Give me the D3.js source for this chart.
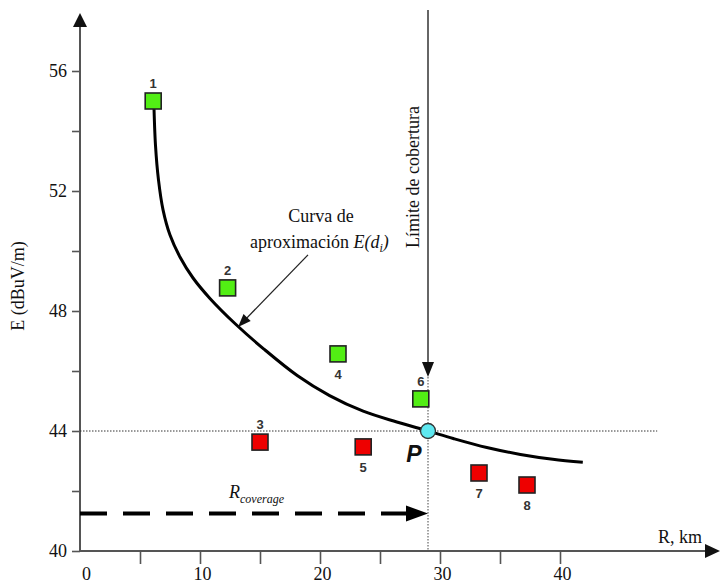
<!DOCTYPE html>
<html><head><meta charset="utf-8">
<script src="https://cdn.jsdelivr.net/npm/d3@7/dist/d3.min.js"></script>
<style>body{margin:0;background:#fff}svg{display:block}</style>
</head><body><svg id="c" width="720" height="583"></svg>
<script>
// ---- data ----
const pointIds   = [1, 2, 3, 4, 5, 6, 7, 8];
const pointR     = [6.1, 12.3, 15.0, 21.5, 23.6, 28.4, 33.25, 37.25];
const pointE     = [55.0, 48.77, 43.63, 46.57, 43.47, 45.07, 42.6, 42.2];
const pointState = ["above","above","below","above","below","above","below","below"];
const labelSide  = ["top","top","top","bottom","bottom","top","bottom","bottom"];
const curveR = [6.15, 6.29, 6.54, 6.92, 7.5, 8.33, 9.42, 10.83, 13.0, 15.3, 18.1, 20.8, 23.6, 26.4, 29.0, 31.1, 33.9, 36.7, 39.4, 41.9];
const curveE = [55.0, 53.53, 52.37, 51.37, 50.53, 49.8, 49.1, 48.42, 47.55, 46.74, 45.85, 45.18, 44.66, 44.3, 44.0, 43.75, 43.45, 43.22, 43.06, 42.96];
const xTickValues = [0, 5, 10, 15, 20, 25, 30, 35, 40];
const xTickLabels = [0, 10, 20, 30, 40];
const yTickValues = [40, 42, 44, 46, 48, 50, 52, 54, 56];
const yTickLabels = [40, 44, 48, 52, 56];
const pointP = {r: 29, e: 44};
const coverageE = 41.25;        // level of the R_coverage dashed arrow
const limitArrowTipE = 45.8;    // tip of the "Límite de cobertura" arrow
const thresholdEndR = 48.1;     // end of the 44 dB dotted line

const serif = "'Liberation Serif','Times New Roman',serif";
const sans = "'Liberation Sans',Arial,sans-serif";

const svg = d3.select("#c");
const x = d3.scaleLinear().domain([0, 40]).range([80, 560]);
const y = d3.scaleLinear().domain([40, 56]).range([551, 71]);

// ---- axes ----
const xAxis = d3.axisBottom(x).tickValues(xTickValues).tickSize(13).tickPadding(3)
  .tickFormat(d => xTickLabels.includes(d) ? d : "");
const gx = svg.append("g").attr("transform", `translate(0,${y(40)})`).call(xAxis);
gx.select(".domain").remove();
gx.selectAll(".tick line").attr("stroke", "#555").attr("stroke-width", 1.6)
  .filter(d => d === 0).remove();
gx.selectAll(".tick text").attr("font-family", serif).attr("font-size", 18).attr("fill", "#111")
  .attr("dx", d => d === 0 ? 6 : 2);

const yAxis = d3.axisLeft(y).tickValues(yTickValues).tickSize(8).tickPadding(5)
  .tickFormat(d => yTickLabels.includes(d) ? d : "");
const gy = svg.append("g").attr("transform", `translate(${x(0)},0)`).call(yAxis);
gy.select(".domain").remove();
gy.selectAll(".tick line").attr("stroke", "#555").attr("stroke-width", 1.6);
gy.selectAll(".tick text").attr("font-family", serif).attr("font-size", 18).attr("fill", "#111");

// axis lines with arrowheads
const x0 = x(0), y0 = y(40);
svg.append("line").attr("x1", x0).attr("y1", y0).attr("x2", x0).attr("y2", 24)
  .attr("stroke", "#555").attr("stroke-width", 2);
svg.append("path").attr("d", `M${x0},13 L${x0-7},27 L${x0+7},27 Z`).attr("fill", "#111");
svg.append("line").attr("x1", x0).attr("y1", y0).attr("x2", 708).attr("y2", y0)
  .attr("stroke", "#555").attr("stroke-width", 2);
svg.append("path").attr("d", `M720,${y0} L705,${y0-7} L705,${y0+7} Z`).attr("fill", "#111");

// axis titles
svg.append("text").attr("x", 702).attr("y", 543).attr("text-anchor", "end")
  .attr("font-family", serif).attr("font-size", 18).attr("fill", "#111").text("R, km");
svg.append("text").attr("transform", "translate(24,286) rotate(-90)").attr("text-anchor", "middle")
  .attr("font-family", serif).attr("font-size", 18).attr("fill", "#111").text("E (dBuV/m)");

// ---- reference lines ----
svg.append("line").attr("x1", x0).attr("x2", x(thresholdEndR)).attr("y1", y(pointP.e)).attr("y2", y(pointP.e))
  .attr("stroke", "#333").attr("stroke-width", 1).attr("stroke-dasharray", "1.5,1.5");
// coverage limit: solid line from top, arrowhead, dotted down to axis
const px = x(pointP.r);
svg.append("line").attr("x1", px).attr("x2", px).attr("y1", 10).attr("y2", y(limitArrowTipE) - 12)
  .attr("stroke", "#666").attr("stroke-width", 2);
svg.append("path").attr("d", `M${px},${y(limitArrowTipE)} L${px-6},${y(limitArrowTipE)-15} L${px+6},${y(limitArrowTipE)-15} Z`)
  .attr("fill", "#111");
svg.append("line").attr("x1", px).attr("x2", px).attr("y1", y(limitArrowTipE)).attr("y2", y0)
  .attr("stroke", "#444").attr("stroke-width", 1).attr("stroke-dasharray", "1.5,1.5");
svg.append("text").attr("transform", `translate(${px-9},177) rotate(-90)`).attr("text-anchor", "middle")
  .attr("font-family", serif).attr("font-size", 18).attr("fill", "#111").text("Límite de cobertura");

// R coverage dashed arrow
const cy = y(coverageE);
svg.append("line").attr("x1", x0).attr("x2", px - 21).attr("y1", cy).attr("y2", cy)
  .attr("stroke", "#000").attr("stroke-width", 4).attr("stroke-dasharray", "27,16");
svg.append("path").attr("d", `M${px},${cy} L${px-22},${cy-8} L${px-22},${cy+8} Z`).attr("fill", "#000");
const rc = svg.append("text").attr("x", 229).attr("y", 498).attr("font-family", serif)
  .attr("font-style", "italic").attr("fill", "#111");
rc.append("tspan").attr("font-size", 18).text("R");
rc.append("tspan").attr("font-size", 12).attr("dy", 5).text("coverage");

// ---- approximation curve ----
const curvePts = curveR.map((r, i) => [r, curveE[i]]);
svg.append("path").datum(curvePts)
  .attr("d", d3.line().x(d => x(d[0])).y(d => y(d[1])).curve(d3.curveCatmullRom.alpha(0.5)))
  .attr("fill", "none").attr("stroke", "#000").attr("stroke-width", 3);

// annotation arrow to curve
const aStart = [19.0, 49.87], aEnd = [13.17, 47.47];
const ax1 = x(aStart[0]), ay1 = y(aStart[1]), ax2 = x(aEnd[0]), ay2 = y(aEnd[1]);
svg.append("line").attr("x1", ax1).attr("y1", ay1).attr("x2", ax2 + 6).attr("y2", ay2 - 6)
  .attr("stroke", "#222").attr("stroke-width", 1.3);
const ang = Math.atan2(ay2 - ay1, ax2 - ax1);
const hl = 13, hw = 5;
const bx = ax2 - hl * Math.cos(ang), by = ay2 - hl * Math.sin(ang);
svg.append("path").attr("d",
  `M${ax2},${ay2} L${bx + hw*Math.sin(ang)},${by - hw*Math.cos(ang)} L${bx - hw*Math.sin(ang)},${by + hw*Math.cos(ang)} Z`)
  .attr("fill", "#111");
svg.append("text").attr("x", 321).attr("y", 222).attr("text-anchor", "middle")
  .attr("font-family", serif).attr("font-size", 18).attr("fill", "#111").text("Curva de");
const t2 = svg.append("text").attr("x", 250).attr("y", 248)
  .attr("font-family", serif).attr("font-size", 18).attr("fill", "#111");
t2.append("tspan").text("aproximación ");
t2.append("tspan").attr("font-style", "italic").text("E(d");
t2.append("tspan").attr("font-style", "italic").attr("font-size", 12).attr("dy", 4).text("i");
t2.append("tspan").attr("font-style", "italic").attr("dy", -4).text(")");

// ---- measurement points ----
const pts = pointIds.map((id, i) => ({id, r: pointR[i], e: pointE[i], s: pointState[i], side: labelSide[i]}));
const sq = 16;
svg.selectAll("rect.pt").data(pts).join("rect").attr("class", "pt")
  .attr("x", d => x(d.r) - sq/2).attr("y", d => y(d.e) - sq/2).attr("width", sq).attr("height", sq)
  .attr("fill", d => d.s === "above" ? "#52ee14" : "#ee0000")
  .attr("stroke", "#222").attr("stroke-width", 1.6);
svg.selectAll("text.pl").data(pts).join("text").attr("class", "pl")
  .attr("x", d => x(d.r)).attr("y", d => d.side === "top" ? y(d.e) - 13 : y(d.e) + 25)
  .attr("text-anchor", "middle").attr("font-family", sans).attr("font-weight", "bold")
  .attr("font-size", 13).attr("fill", "#333").text(d => d.id);

// point P
svg.append("circle").attr("cx", px).attr("cy", y(pointP.e)).attr("r", 7.5)
  .attr("fill", "#5ee8f0").attr("stroke", "#333").attr("stroke-width", 1.3);
svg.append("text").attr("x", 414).attr("y", 462).attr("text-anchor", "middle")
  .attr("font-family", sans).attr("font-weight", "bold").attr("font-style", "italic")
  .attr("font-size", 23).attr("fill", "#111").text("P");
</script></body></html>
